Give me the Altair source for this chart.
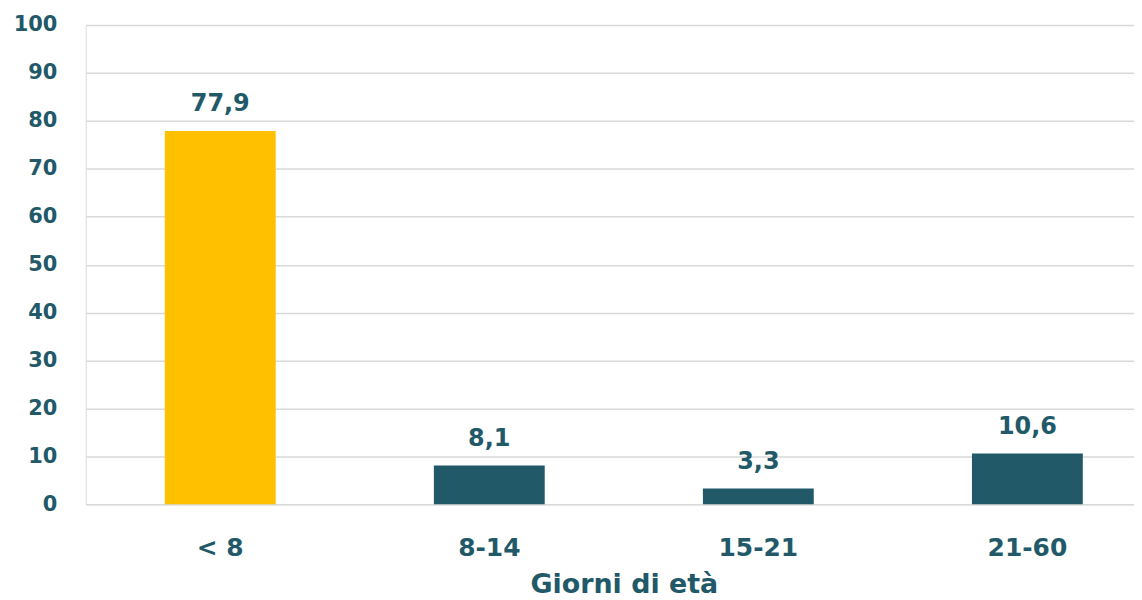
import altair as alt
import pandas as pd

categories = ["< 8", "8-14", "15-21", "21-60"]
values = [77.9, 8.1, 3.3, 10.6]
colors = ["#FFC000", "#215968", "#215968", "#215968"]

df = pd.DataFrame({
    "cat": categories,
    "val": values,
    "color": colors,
    "label": [f"{v:.1f}".replace(".", ",") for v in values],
})

FONT = "DejaVu Sans"
TEXT = "#215968"

x = alt.X(
    "cat:N",
    sort=categories,
    scale=alt.Scale(range=[0, 1080], paddingInner=0.588, paddingOuter=0.294),
    axis=alt.Axis(
        title="Giorni di età",
        labelAngle=0,
        labelFont=FONT,
        labelFontSize=25,
        labelFontWeight="bold",
        labelColor=TEXT,
        labelPadding=31,
        titleFont=FONT,
        titleFontSize=27,
        titleFontWeight="bold",
        titleColor=TEXT,
        titlePadding=12,
        domain=False,
        ticks=False,
        grid=False,
    ),
)

y = alt.Y(
    "val:Q",
    scale=alt.Scale(domain=[0, 100], nice=False),
    axis=alt.Axis(
        title=None,
        values=list(range(0, 101, 10)),
        labelFont=FONT,
        labelFontSize=21,
        labelFontWeight="bold",
        labelColor=TEXT,
        labelPadding=29,
        domain=False,
        ticks=False,
        grid=True,
        gridColor="#D9D9D9",
        gridWidth=1.5,
    ),
)

base = alt.Chart(df).encode(x=x, y=y)

bars = base.mark_bar().encode(color=alt.Color("color:N", scale=None))

labels = base.mark_text(
    baseline="bottom",
    dy=-15,
    font=FONT,
    fontSize=24,
    fontWeight="bold",
    color=TEXT,
).encode(text="label:N")

chart = (
    alt.layer(bars, labels)
    .properties(
        width=1052,
        height=481,
        autosize=alt.AutoSizeParams(type="none"),
        padding={"left": 78, "top": 16, "right": 0, "bottom": 96},
    )
    .configure_view(strokeWidth=0, stroke="transparent")
    .configure(background="white")
)

chart.save("out.html", embed_options={"renderer": "svg", "actions": False})
